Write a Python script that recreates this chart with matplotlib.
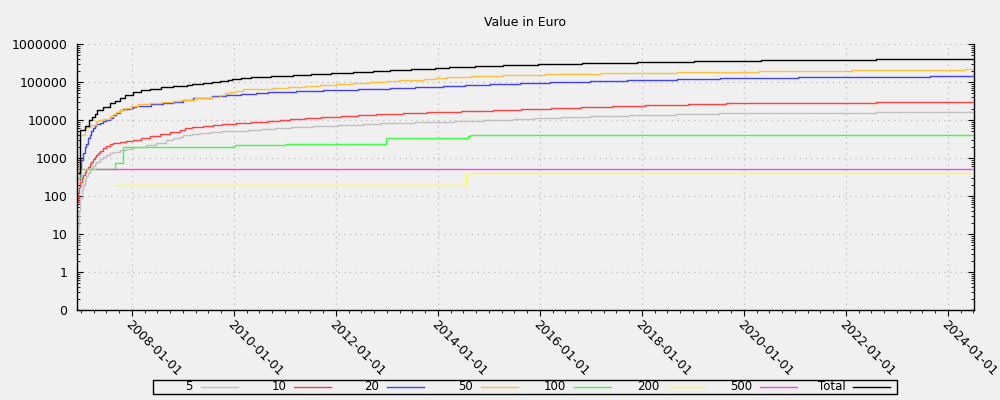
import numpy as np
import pandas as pd
import matplotlib
matplotlib.use('Agg')
import matplotlib.pyplot as plt
import matplotlib.dates as mdates
from matplotlib.lines import Line2D
from matplotlib.patches import Rectangle
from matplotlib.ticker import FixedLocator, FixedFormatter, LogLocator, NullFormatter

# step points: decimal year -> value in euro
years_5 = [2006.925, 2006.935, 2006.955, 2006.988, 2007.014, 2007.039, 2007.073, 2007.106, 2007.137, 2007.171,
           2007.204, 2007.235, 2007.269, 2007.302, 2007.367, 2007.431, 2007.498, 2007.563, 2007.627, 2007.759,
           2007.890, 2008.020, 2008.282, 2008.478, 2008.675, 2008.798, 2008.935, 2009.000, 2009.165, 2009.327,
           2009.524, 2009.753, 2010.275, 2010.537, 2010.798, 2011.125, 2011.549, 2012.039, 2012.529, 2012.890,
           2013.524, 2014.308, 2014.896, 2015.471, 2015.876, 2016.420, 2016.988, 2017.745, 2018.661, 2019.504,
           2022.582, 2024.504]
values_5 = [5, 15, 40, 90, 140, 190, 260, 330, 400, 470,
            540, 620, 700, 780, 920, 1050, 1200, 1350, 1480, 1650,
            1750, 1900, 2200, 2550, 3000, 3300, 3600, 4000, 4200, 4500,
            4700, 5000, 5300, 5700, 6000, 6400, 6900, 7300, 7700, 8200,
            8800, 9300, 9900, 10500, 11000, 11800, 12500, 13300, 14000, 15000,
            16000, 16000]

years_10 = [2006.922, 2006.941, 2006.961, 2006.988, 2007.014, 2007.039, 2007.073, 2007.106, 2007.137, 2007.171,
            2007.204, 2007.235, 2007.269, 2007.302, 2007.333, 2007.367, 2007.431, 2007.498, 2007.563, 2007.627,
            2007.759, 2007.890, 2008.020, 2008.184, 2008.347, 2008.543, 2008.739, 2008.935, 2009.033, 2009.165,
            2009.392, 2009.588, 2009.753, 2010.047, 2010.341, 2010.667, 2010.896, 2011.092, 2011.386, 2011.714,
            2012.106, 2012.431, 2012.792, 2013.314, 2013.784, 2014.445, 2015.078, 2015.635, 2016.224, 2016.812,
            2017.400, 2018.053, 2018.902, 2019.655, 2022.582, 2024.504]
values_10 = [71, 117, 176, 238, 294, 357, 435, 510, 590, 700,
             800, 920, 1040, 1200, 1380, 1520, 1800, 2100, 2350, 2550,
             2600, 2800, 3000, 3300, 3700, 4200, 4800, 5400, 6000, 6500,
             7000, 7200, 7700, 8200, 8800, 9300, 9900, 10500, 11000, 11800,
             12500, 13300, 14000, 15000, 16000, 17000, 18000, 19200, 20300, 21500,
             22800, 24200, 25700, 27400, 29000, 29000]

years_20 = [2006.955, 2006.975, 2007.008, 2007.039, 2007.073, 2007.106, 2007.137, 2007.171, 2007.204, 2007.235,
            2007.269, 2007.302, 2007.367, 2007.431, 2007.498, 2007.563, 2007.627, 2007.694, 2007.759, 2007.824,
            2007.955, 2008.020, 2008.086, 2008.184, 2008.380, 2008.608, 2008.804, 2009.000, 2009.196, 2009.557,
            2009.837, 2010.145, 2010.439, 2010.667, 2011.224, 2011.745, 2012.431, 2013.053, 2013.543, 2014.098,
            2014.537, 2015.014, 2015.602, 2016.190, 2016.975, 2017.706, 2018.686, 2019.524, 2021.059, 2023.641,
            2024.504]
values_20 = [265, 480, 890, 1350, 2000, 2400, 3400, 4000, 5000, 6000,
             7000, 7700, 8500, 9400, 10000, 11500, 13500, 15700, 17800, 19300,
             21000, 22000, 23000, 23500, 26500, 28500, 30500, 34000, 38500, 43000,
             45500, 47500, 50500, 54500, 58000, 60500, 65000, 68000, 72000, 77000,
             81500, 87000, 92000, 98000, 104000, 111000, 118000, 125000, 133000, 141000,
             141000]

years_50 = [2006.941, 2006.965, 2006.984, 2007.073, 2007.106, 2007.204, 2007.288, 2007.333, 2007.431, 2007.563,
            2007.627, 2007.694, 2007.759, 2007.857, 2007.988, 2008.118, 2008.347, 2008.576, 2008.804, 2008.935,
            2009.229, 2009.557, 2009.720, 2009.818, 2009.916, 2010.047, 2010.176, 2010.765, 2011.059, 2011.386,
            2011.680, 2012.008, 2012.333, 2012.661, 2012.988, 2013.235, 2013.725, 2013.949, 2014.176, 2014.641,
            2015.249, 2016.092, 2017.184, 2018.686, 2020.294, 2022.125, 2024.327, 2024.504]
values_50 = [220, 700, 4000, 6000, 6700, 7400, 9400, 10000, 10500, 12700,
             14300, 16500, 18300, 20300, 23400, 26000, 27700, 29500, 32000, 34000,
             37000, 41000, 45500, 50000, 54500, 58000, 64000, 68000, 74000, 78500,
             83500, 88500, 94000, 100000, 106000, 111000, 118000, 125000, 133000, 141000,
             150000, 159000, 169000, 180000, 191000, 203000, 216000, 216000]

years_100 = [2006.984, 2006.994, 2007.661, 2007.824, 2009.980, 2010.014, 2011.014, 2012.988, 2014.588, 2014.622,
             2024.504]
values_100 = [300, 500, 730, 1900, 2100, 2150, 2300, 3300, 3800, 4000, 4000]

years_200 = [2007.675, 2014.555, 2024.504]
values_200 = [200, 400, 400]

years_500 = [2007.288, 2024.504]
values_500 = [500, 500]

years_total = [2006.945, 2006.975, 2007.075, 2007.157, 2007.210, 2007.269, 2007.314, 2007.431, 2007.563, 2007.661,
               2007.759, 2007.857, 2008.020, 2008.184, 2008.347, 2008.576, 2008.804, 2009.067, 2009.165, 2009.392,
               2009.557, 2009.720, 2009.882, 2009.949, 2010.145, 2010.341, 2010.733, 2011.157, 2011.518, 2011.910,
               2012.333, 2012.725, 2013.053, 2013.478, 2013.935, 2014.216, 2014.720, 2015.275, 2015.961, 2016.831,
               2017.902, 2019.020, 2020.327, 2022.582, 2024.504]
values_total = [400, 5400, 6900, 10000, 12000, 14000, 18000, 22000, 28000, 32000,
                39000, 45000, 55000, 60000, 65000, 72000, 78500, 83000, 88500, 94000,
                100000, 104000, 111000, 118000, 125000, 133000, 141000, 150000, 159000, 169000,
                180000, 191000, 203000, 216000, 229000, 243000, 259000, 275000, 292000, 310000,
                330000, 351000, 372000, 395000, 395000]

labels = ['5', '10', '20', '50', '100', '200', '500', 'Total']
colors = ['#c0c0c0', '#ff4040', '#4040ff', '#ffc040', '#40ff40', '#ffff40', '#ff40ff', '#000000']
y_ticks = [0.1, 1, 10, 100, 1000, 10000, 100000, 1000000]
y_tick_labels = ['0', '1', '10', '100', '1000', '10000', '100000', '1000000']
x_range = [2006.92, 2024.51]


def to_dates(years):
    out = []
    for y in years:
        yr = int(y)
        out.append(pd.Timestamp(yr, 1, 1) + pd.Timedelta(days=(y - yr) * 365.25))
    return out


bg = '#f0f0f0'
W, H = 1000, 400
plt.rcParams['font.family'] = ['DejaVu Sans']
fig = plt.figure(figsize=(10, 4), dpi=100, facecolor=bg)
ax = fig.add_axes([0.077, 0.225, 0.897, 0.665], facecolor=bg)

series = [(years_5, values_5), (years_10, values_10), (years_20, values_20), (years_50, values_50),
          (years_100, values_100), (years_200, values_200), (years_500, values_500),
          (years_total, values_total)]
for (yrs, vals), lab, col in zip(series, labels, colors):
    ax.plot(to_dates(yrs), vals, drawstyle='steps-post', color=col, lw=1.0, label=lab)

ax.set_yscale('log')
ax.set_ylim(0.1, 1000000)
ax.yaxis.set_major_locator(FixedLocator(y_ticks))
ax.yaxis.set_major_formatter(FixedFormatter(y_tick_labels))
ax.yaxis.set_minor_locator(LogLocator(base=10, subs=np.arange(2, 10), numticks=20))
ax.yaxis.set_minor_formatter(NullFormatter())

ax.set_xlim(to_dates(x_range))
ax.xaxis.set_major_locator(mdates.YearLocator(2))
ax.xaxis.set_major_formatter(mdates.DateFormatter('%Y-%m-%d'))
ax.xaxis.set_minor_locator(mdates.MonthLocator(bymonth=[1, 4, 7, 10]))

ax.spines['top'].set_visible(False)
for s in ['left', 'right', 'bottom']:
    ax.spines[s].set_color('black')
    ax.spines[s].set_linewidth(1)

ax.tick_params(axis='y', which='both', direction='in', left=True, right=True, labelsize=9, pad=7)
ax.tick_params(axis='y', which='major', length=4)
ax.tick_params(axis='y', which='minor', length=2)
ax.tick_params(axis='x', which='major', direction='out', length=4, labelsize=9, pad=2)
ax.tick_params(axis='x', which='minor', direction='out', length=2.5)
for lbl in ax.get_xticklabels():
    lbl.set_rotation(-45)
    lbl.set_ha('left')
    lbl.set_va('top')
    lbl.set_rotation_mode('anchor')

ax.grid(which='major', color='#c4c4c4', linestyle=(0, (1, 3)), linewidth=1)

fig.text(0.5255, 0.945, 'Value in Euro', ha='center', va='center', fontsize=9)

# legend: fixed-width cells, label right of centre, sample line after it
fig.add_artist(Rectangle((153 / W, 1 - 394 / H), 744 / W, 14 / H, transform=fig.transFigure,
                         facecolor=bg, edgecolor='black', lw=1))
cell = 93.2
for i, (lab, col) in enumerate(zip(labels, colors)):
    x0 = 201 + i * cell
    fig.add_artist(Line2D([x0 / W, (x0 + 37) / W], [1 - 387 / H] * 2, transform=fig.transFigure,
                          color=col, lw=1.0))
    fig.text((x0 - 8) / W, 1 - 387 / H, lab, ha='right', va='center', fontsize=8.5)

fig.savefig('out.png', dpi=100, facecolor=bg)
